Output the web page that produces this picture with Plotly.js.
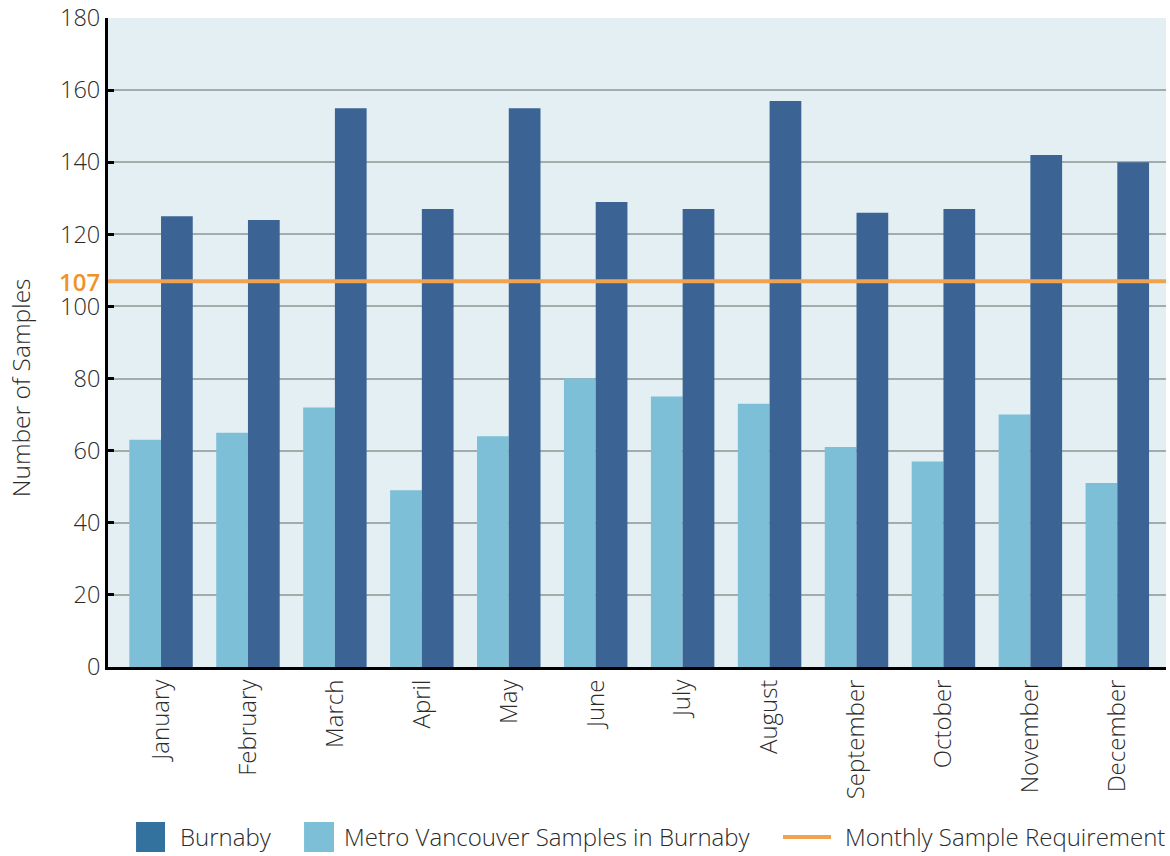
<!DOCTYPE html>
<html>
<head>
<meta charset="utf-8">
<script src="https://cdn.plot.ly/plotly-3.0.1.min.js"></script>
<style>html,body{margin:0;padding:0;background:#fff;}#chart{width:1170px;height:856px;}</style>
</head>
<body>
<div id="chart"></div>
<script>
const months = ["January","February","March","April","May","June","July","August","September","October","November","December"];
const metroSamples = [63, 65, 72, 49, 64, 80, 75, 73, 61, 57, 70, 51];
const burnabySamples = [125, 124, 155, 127, 155, 129, 127, 157, 126, 127, 142, 140];
const requirement = 107;
const yTicks = [0, 20, 40, 60, 80, 100, 120, 140, 160, 180];
const legendLabels = ["Burnaby", "Metro Vancouver Samples in Burnaby", "Monthly Sample Requirement"];

const FONT = "'Open Sans', 'Noto Sans', sans-serif";
const TXT = "#2b2b2b";
const C_BURNABY = "#3b6494";
const C_BURNABY_LEG = "#33719e";
const C_METRO = "#7dbfd6";
const C_REQ = "#f0a24e";

const data = [
  {
    type: "bar", name: legendLabels[1], x: months, y: metroSamples,
    marker: {color: C_METRO}, showlegend: false
  },
  {
    type: "bar", name: legendLabels[0], x: months, y: burnabySamples,
    marker: {color: C_BURNABY}, showlegend: false
  },
  {
    type: "scatter", mode: "lines", name: legendLabels[2],
    x: [-0.61, 11.56], y: [requirement, requirement], xaxis: "x2",
    line: {color: C_REQ, width: 4}, showlegend: false, hoverinfo: "skip"
  }
];

// custom legend geometry (paper coords)
const legY0 = -0.2851, legY1 = -0.2388, legYc = -0.2619;
const shapes = [
  {type: "rect", xref: "paper", yref: "paper", x0: 0.0265, x1: 0.0539, y0: legY0, y1: legY1,
   fillcolor: C_BURNABY_LEG, line: {width: 0}},
  {type: "rect", xref: "paper", yref: "paper", x0: 0.1853, x1: 0.2136, y0: legY0, y1: legY1,
   fillcolor: C_METRO, line: {width: 0}},
  {type: "line", xref: "paper", yref: "paper", x0: 0.6380, x1: 0.6834, y0: legYc, y1: legYc,
   line: {color: C_REQ, width: 4}}
];

const legFont = {family: FONT, size: 24, color: TXT, weight: 300};
const annotations = [
  {
    text: "Number of Samples", textangle: -90, xref: "paper", yref: "paper",
    x: -0.0832, y: 0.431, xanchor: "center", yanchor: "middle", showarrow: false,
    font: {family: FONT, size: 24.5, color: TXT, weight: 300}
  },
  {
    text: "107", xref: "paper", yref: "y", x: -0.006, y: requirement,
    xanchor: "right", yanchor: "middle", showarrow: false,
    font: {family: FONT, size: 24, color: "#f0922b", weight: 600}
  },
  {text: legendLabels[0], xref: "paper", yref: "paper", x: 0.0662, y: legYc,
   xanchor: "left", yanchor: "middle", showarrow: false, font: legFont},
  {text: legendLabels[1], xref: "paper", yref: "paper", x: 0.2212, y: legYc,
   xanchor: "left", yanchor: "middle", showarrow: false, font: legFont},
  {text: legendLabels[2], xref: "paper", yref: "paper", x: 0.6947, y: legYc,
   xanchor: "left", yanchor: "middle", showarrow: false, font: legFont}
];

const layout = {
  width: 1170, height: 856,
  margin: {l: 108, r: 4, t: 18, b: 189},
  paper_bgcolor: "#ffffff",
  plot_bgcolor: "#e4eff4",
  font: {family: FONT, size: 24, color: TXT},
  barmode: "group",
  bargap: 0.27,
  bargroupgap: 0,
  showlegend: false,
  xaxis: {
    type: "category", range: [-0.61, 11.56],
    tickangle: -90, ticks: "", showgrid: false,
    showline: true, linecolor: "#000", linewidth: 3,
    tickfont: {family: FONT, size: 24, color: TXT, weight: 300},
    automargin: false, fixedrange: true
  },
  xaxis2: {
    overlaying: "x", range: [-0.61, 11.56], visible: false, fixedrange: true
  },
  yaxis: {
    range: [0, 180], tickvals: yTicks, ticktext: yTicks.map(String),
    showgrid: true, gridcolor: "#a3abab", gridwidth: 2,
    showline: true, linecolor: "#000", linewidth: 3,
    ticks: "inside", ticklen: 6, tickwidth: 3, tickcolor: "#000",
    zeroline: false,
    tickfont: {family: FONT, size: 23.5, color: TXT, weight: 300},
    automargin: false, fixedrange: true
  },
  shapes: shapes,
  annotations: annotations
};

Plotly.newPlot("chart", data, layout, {displayModeBar: false, staticPlot: true});
</script>
</body>
</html>
